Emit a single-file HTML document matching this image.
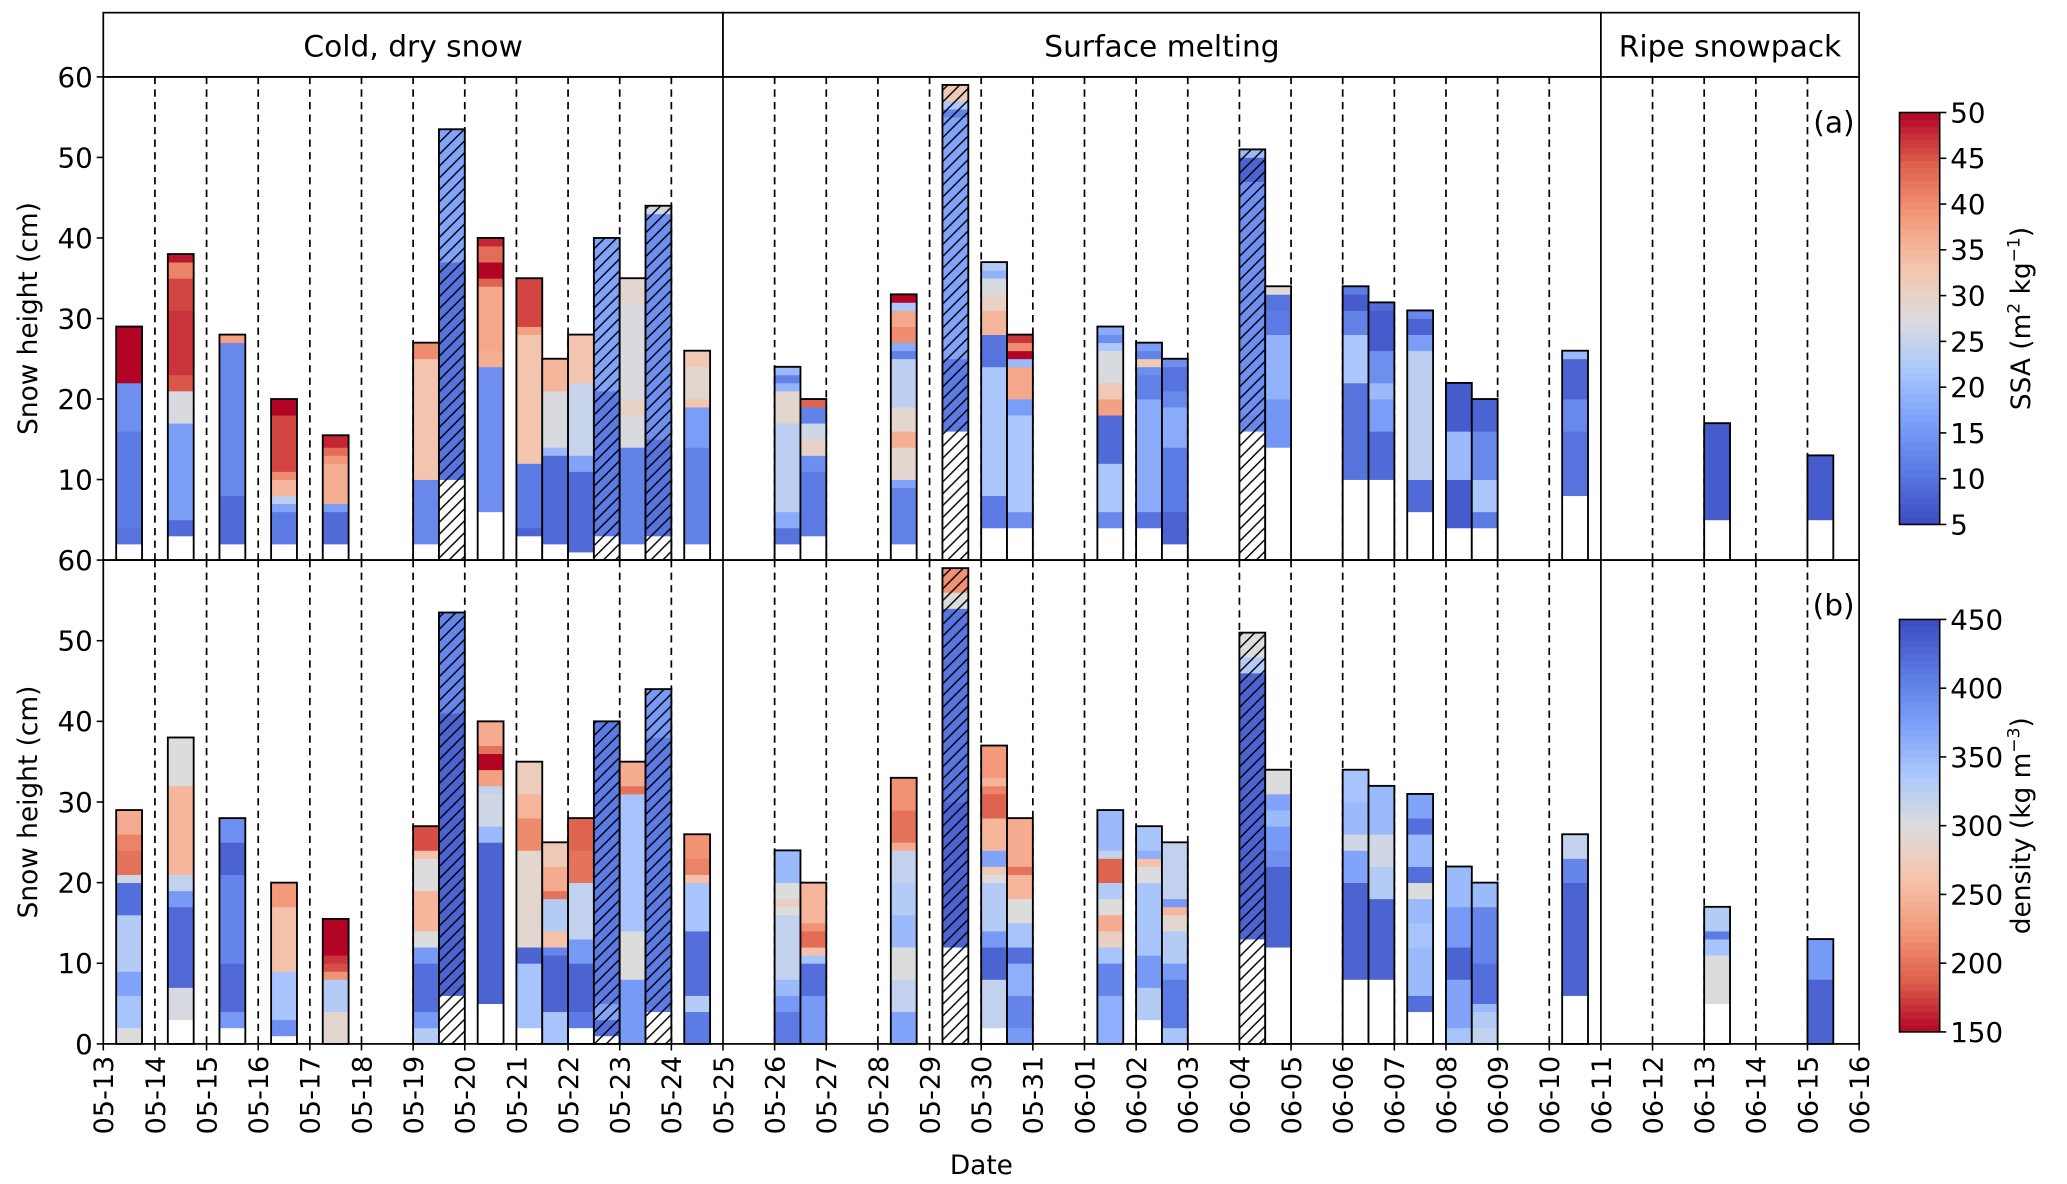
<!DOCTYPE html>
<html><head><meta charset="utf-8">
<style>
html,body{margin:0;padding:0;background:#fff;}
svg{display:block;font-family:"DejaVu Sans","Liberation Sans",sans-serif;}
</style></head>
<body>
<svg id="chart" width="2067" height="1184" viewBox="0 0 1567 897.6" preserveAspectRatio="none" xmlns="http://www.w3.org/2000/svg">
<defs>
<pattern id="hatch" patternUnits="userSpaceOnUse" width="9" height="9">
<path d="M-1,1 L1,-1 M0,9 L9,0 M8,10 L10,8" stroke="#000" stroke-width="1.1"/>
</pattern>
</defs>
</svg>
<script>
// ---------- data ----------
const dayLabels = ["05-13","05-14","05-15","05-16","05-17","05-18","05-19","05-20","05-21","05-22","05-23","05-24","05-25","05-26","05-27","05-28","05-29","05-30","05-31","06-01","06-02","06-03","06-04","06-05","06-06","06-07","06-08","06-09","06-10","06-11","06-12","06-13","06-14","06-15","06-16"];
const barDays = [0.5,1.5,2.5,3.5,4.5,6.25,6.75,7.5,8.25,8.75,9.25,9.75,10.25,10.75,11.5,13.25,13.75,15.5,16.5,17.25,17.75,19.5,20.25,20.75,22.25,22.75,24.25,24.75,25.5,26.25,26.75,28.5,31.25,33.25];
const snowHeight = [29,38,28,20,15.5,27,53.5,40,35,25,28,40,35,44,26,24,20,33,59,37,28,29,27,25,51,34,34,32,31,22,20,26,17,13];
const hatched = [0,0,0,0,0,0,1,0,0,0,0,1,0,1,0,0,0,0,1,0,0,0,0,0,1,0,0,0,0,0,0,0,0,0];
const ssaBase = [2,3,2,2,2,2,10,6,3,2,1,3,2,3,2,2,3,2,16,4,4,4,4,2,16,14,10,10,6,4,4,8,5,5];
// layers: [top cm, SSA value]
const ssaLayers = [
[[4,10],[16,11],[22,14],[29,50]],
[[5,9],[17,16],[21,27],[23,45],[31,47],[35,46],[37,41],[38,49]],
[[8,9],[27,13],[28,38]],
[[6,11],[7,17],[8,24],[10,35],[11,40],[18,46],[20,50]],
[[6,9],[7,16],[12,36],[13,39],[14,43],[15.5,48]],
[[10,13],[25,33],[27,40]],
[[37,10],[53.5,17]],
[[24,14],[26,36],[34,37],[35,44],[37,50],[39,43],[40,48]],
[[4,8],[12,11],[28,33],[29,38],[35,46]],
[[13,9],[14,20],[21,27],[25,35]],
[[11,9],[13,17],[22,25],[28,33]],
[[21,11],[40,17]],
[[14,12],[18,27],[20,30],[32,27],[35,29]],
[[15,10],[43,14],[44,26]],
[[14,12],[19,16],[20,33],[24,29],[26,32]],
[[4,10],[6,18],[17,24],[21,29],[22,19],[23,12],[24,20]],
[[11,11],[13,14],[15,30],[17,26],[19,12],[20,44]],
[[9,12],[10,17],[14,29],[16,36],[19,29],[25,24],[26,12],[27,18],[29,40],[31,37],[32,22],[33,50]],
[[25,11],[55,17],[56,12],[57,22],[59,32]],
[[8,11],[24,22],[28,10],[31,35],[33,30],[35,27],[36,19],[37,23]],
[[6,14],[18,22],[20,16],[24,37],[25,20],[26,50],[27,40],[28,47]],
[[6,13],[12,22],[18,9],[20,38],[22,32],[26,27],[27,22],[28,14],[29,18]],
[[6,10],[20,18],[23,12],[24,14],[25,32],[26,12],[27,16]],
[[6,8],[14,11],[19,18],[21,13],[24,10],[25,14]],
[[18,13],[47,14],[50,8],[51,20]],
[[20,15],[28,19],[31,11],[33,10],[34,28]],
[[22,10],[28,22],[31,12],[33,7],[34,11]],
[[16,9],[20,16],[22,20],[26,14],[31,7],[32,9]],
[[10,9],[26,24],[28,16],[30,8],[31,13]],
[[10,7],[16,20],[22,7]],
[[6,11],[10,22],[16,13],[20,8]],
[[16,10],[20,13],[25,8],[26,20]],
[[17,7]],
[[13,7]]
];
const densBase = [0,3,2,1,0,0,6,5,2,0,2,1,0,4,0,0,0,0,12,2,0,0,3,0,13,12,8,8,4,0,0,6,5,0];
// layers: [top cm, density value]
const densLayers = [
[[2,300],[6,340],[9,370],[16,330],[20,420],[21,310],[24,200],[26,210],[29,240]],
[[7,305],[17,425],[19,380],[21,320],[32,250],[38,300]],
[[4,380],[10,425],[21,400],[25,430],[28,390]],
[[3,390],[9,340],[17,260],[20,225]],
[[4,290],[8,330],[9,220],[10,180],[11,170],[15.5,150]],
[[2,330],[4,380],[10,420],[12,380],[14,300],[19,250],[23,300],[24,260],[27,180]],
[[41,430],[53.5,400]],
[[25,430],[27,350],[31,310],[32,320],[34,230],[36,150],[37,200],[40,240]],
[[10,340],[12,430],[24,290],[28,215],[31,250],[35,275]],
[[4,340],[11,430],[12,400],[14,260],[18,330],[19,200],[22,240],[25,270]],
[[4,410],[10,430],[13,380],[20,320],[24,200],[28,190]],
[[3,420],[5,370],[40,410]],
[[8,380],[14,300],[31,340],[32,200],[35,240]],
[[38,410],[44,380]],
[[4,410],[6,330],[14,420],[20,340],[21,260],[23,210],[26,220]],
[[4,410],[6,380],[8,350],[16,320],[17,300],[18,280],[20,300],[24,350]],
[[6,380],[10,420],[11,340],[12,260],[14,195],[15,220],[20,250]],
[[4,370],[8,320],[12,300],[16,350],[20,330],[24,320],[25,240],[29,200],[33,220]],
[[30,430],[54,415],[56,300],[59,220]],
[[8,320],[12,430],[14,380],[20,330],[21,300],[22,270],[24,370],[28,250],[31,190],[32,210],[33,250],[37,225]],
[[2,380],[6,400],[10,360],[12,420],[15,340],[18,300],[21,250],[22,200],[28,240]],
[[6,360],[10,400],[12,340],[14,280],[16,240],[18,300],[20,330],[23,190],[24,320],[29,350]],
[[7,330],[11,380],[20,340],[22,300],[23,260],[24,360],[27,340]],
[[2,340],[8,410],[10,380],[14,330],[16,290],[17,250],[18,380],[25,320]],
[[46,430],[48,330],[51,300]],
[[22,430],[24,390],[27,380],[29,350],[31,370],[34,300]],
[[20,430],[24,370],[26,310],[30,350],[34,340]],
[[18,430],[22,330],[26,310],[32,350]],
[[6,420],[12,350],[15,340],[18,350],[20,300],[22,420],[26,350],[28,420],[31,370]],
[[2,340],[8,370],[12,430],[17,380],[22,350]],
[[2,320],[4,330],[5,350],[10,420],[17,400],[20,350]],
[[20,430],[23,400],[26,320]],
[[11,300],[13,340],[14,410],[17,330]],
[[8,430],[13,380]]
];
const yTicks = [0,10,20,30,40,50,60];
const ssaTicks = [5,10,15,20,25,30,35,40,45,50];
const densTicks = [150,200,250,300,350,400,450];
const phases = [["Cold, dry snow",0,12],["Surface melting",12,29],["Ripe snowpack",29,34]];

// ---------- layout ----------
const NS = "http://www.w3.org/2000/svg";
const svg = document.getElementById('chart');
const X0 = 78.3, DAYW = 39.15, BARW = 19.6;
const xOf = d => X0 + d * DAYW;
const panels = [{top:58.3,bottom:424.6},{top:424.6,bottom:791.4}];
const yOf = (p, v) => p.bottom - v/60*(p.bottom-p.top);

const stops = [[0,[59,76,192]],[0.125,[90,120,226]],[0.25,[123,159,249]],[0.375,[170,199,253]],[0.5,[221,220,220]],[0.625,[245,196,173]],[0.75,[244,154,123]],[0.875,[222,96,77]],[1,[180,4,38]]];
function coolwarm(t){
  t = Math.max(0, Math.min(1, t));
  for (let i=1;i<stops.length;i++){
    if (t <= stops[i][0]){
      const a=stops[i-1], b=stops[i], f=(t-a[0])/(b[0]-a[0]);
      const c=a[1].map((v,k)=>Math.round(v+(b[1][k]-v)*f));
      return `rgb(${c[0]},${c[1]},${c[2]})`;
    }
  }
}
const ssaColor = v => coolwarm((v-5)/45);
const densColor = v => coolwarm(1-(v-150)/300);

function mk(tag, attrs, parent){
  const e = document.createElementNS(NS, tag);
  for (const k in attrs) e.setAttribute(k, attrs[k]);
  (parent||svg).appendChild(e);
  return e;
}

// header boxes
const hdrTop = 9.6, hdrBot = 58.3;
phases.forEach(ph => {
  const g = mk('g', {});
  
  
  const x1 = xOf(ph[1]), x2 = xOf(ph[2]);
  mk('rect', {x:x1, y:hdrTop, width:x2-x1, height:hdrBot-hdrTop, fill:'#fff', stroke:'#000', 'stroke-width':1.3}, g);
  const t = mk('text', {x:(x1+x2)/2, y:43, 'text-anchor':'middle', 'font-size':22.5}, g);
  t.textContent = ph[0];
});

function drawPanel(pi, base, layers, colorFn, label){
  const p = panels[pi];
  const g = mk('g', {});
  
  
  for (let d=1; d<34; d++){
    if (d===12 || d===29) continue;
    const l = mk('line', {x1:xOf(d), x2:xOf(d), y1:p.top, y2:p.bottom, stroke:'#000', 'stroke-width':1.3, 'stroke-dasharray':'5.5,4'}, g);
    
    
  }
  barDays.forEach((d, i) => {
    const bg = mk('g', {}, g);
    
    
    const xl = xOf(d) - BARW/2;
    mk('rect', {x:xl, y:yOf(p, snowHeight[i]), width:BARW, height:yOf(p,0)-yOf(p,snowHeight[i]), fill:'#fff'}, bg);
    let prev = base[i];
    layers[i].forEach(L => {
      const r = mk('rect', {x:xl, y:yOf(p, L[0]), width:BARW, height:yOf(p,prev)-yOf(p,L[0])+0.3, fill:colorFn(L[1])}, bg);
      
      
      prev = L[0];
    });
    if (hatched[i]) mk('rect', {x:xl, y:yOf(p, snowHeight[i]), width:BARW, height:yOf(p,0)-yOf(p,snowHeight[i]), fill:'url(#hatch)'}, bg);
    mk('rect', {x:xl, y:yOf(p, snowHeight[i]), width:BARW, height:yOf(p,0)-yOf(p,snowHeight[i]), fill:'none', stroke:'#000', 'stroke-width':1.4}, bg);
  });
  [12,29].forEach(d => mk('line', {x1:xOf(d), x2:xOf(d), y1:p.top, y2:p.bottom, stroke:'#000', 'stroke-width':1.3}, g));
  mk('rect', {x:X0, y:p.top, width:xOf(34)-X0, height:p.bottom-p.top, fill:'none', stroke:'#000', 'stroke-width':1.3}, g);
  yTicks.forEach(v => {
    if (pi===0 && v===0) return;
    const y = yOf(p, v);
    mk('line', {x1:X0-5, x2:X0, y1:y, y2:y, stroke:'#000', 'stroke-width':1.2}, g);
    const t = mk('text', {x:X0-8, y:y+7.5, 'text-anchor':'end', 'font-size':21}, g);
    
    
    t.textContent = v;
  });
  const yt = mk('text', {x:0, y:0, 'text-anchor':'middle', 'font-size':20, transform:`translate(28,${(p.top+p.bottom)/2}) rotate(-90)`}, g);
  
  
  yt.textContent = 'Snow height (cm)';
  const pl = mk('text', {x:1406, y:p.top+42, 'text-anchor':'end', 'font-size':22.5}, g);
  
  
  pl.textContent = label;
}
drawPanel(0, ssaBase, ssaLayers, ssaColor, '(a)');
drawPanel(1, densBase, densLayers, densColor, '(b)');

dayLabels.forEach((lab, d) => {
  const x = xOf(d), y = panels[1].bottom;
  mk('line', {x1:x, x2:x, y1:y, y2:y+5, stroke:'#000', 'stroke-width':1.2});
  const t = mk('text', {x:0, y:0, 'text-anchor':'end', 'font-size':20.5, transform:`translate(${x+7.5},${y+9}) rotate(-90)`});
  
  
  t.textContent = lab;
});
const xt = mk('text', {x:744, y:890, 'text-anchor':'middle', 'font-size':20});


xt.textContent = 'Date';

function colorbar(top, bot, ticks, vmin, vmax, colorFn, name, titleParts){
  const g = mk('g', {});
  
  
  const cx = 1440, cw = 30.5, N = 60;
  for (let k=0; k<N; k++){
    const v = vmin + (k+0.5)/N*(vmax-vmin);
    const y1 = bot - (k+1)/N*(bot-top);
    mk('rect', {x:cx, y:y1, width:cw, height:(bot-top)/N+0.4, fill:colorFn(v)}, g);
  }
  mk('rect', {x:cx, y:top, width:cw, height:bot-top, fill:'none', stroke:'#000', 'stroke-width':1.2}, g);
  ticks.forEach(v => {
    const y = bot - (v-vmin)/(vmax-vmin)*(bot-top);
    mk('line', {x1:cx+cw, x2:cx+cw+5, y1:y, y2:y, stroke:'#000', 'stroke-width':1.2}, g);
    const t = mk('text', {x:cx+cw+8, y:y+7.5, 'font-size':21}, g);
    
    
    t.textContent = v;
  });
  const tt = mk('text', {x:0, y:0, 'text-anchor':'middle', 'font-size':20, transform:`translate(1539,${(top+bot)/2}) rotate(-90)`}, g);
  
  
  tt.innerHTML = titleParts;
}
colorbar(85.3, 397.6, ssaTicks, 5, 50, ssaColor, 'ssa-colorbar', 'SSA (m<tspan dy="-8" font-size="13">2</tspan><tspan dy="8"> kg</tspan><tspan dy="-8" font-size="13">−1</tspan><tspan dy="8">)</tspan>');
colorbar(469.6, 782.3, densTicks, 150, 450, densColor, 'density-colorbar', 'density (kg m<tspan dy="-8" font-size="13">−3</tspan><tspan dy="8">)</tspan>');
</script>
</body></html>
